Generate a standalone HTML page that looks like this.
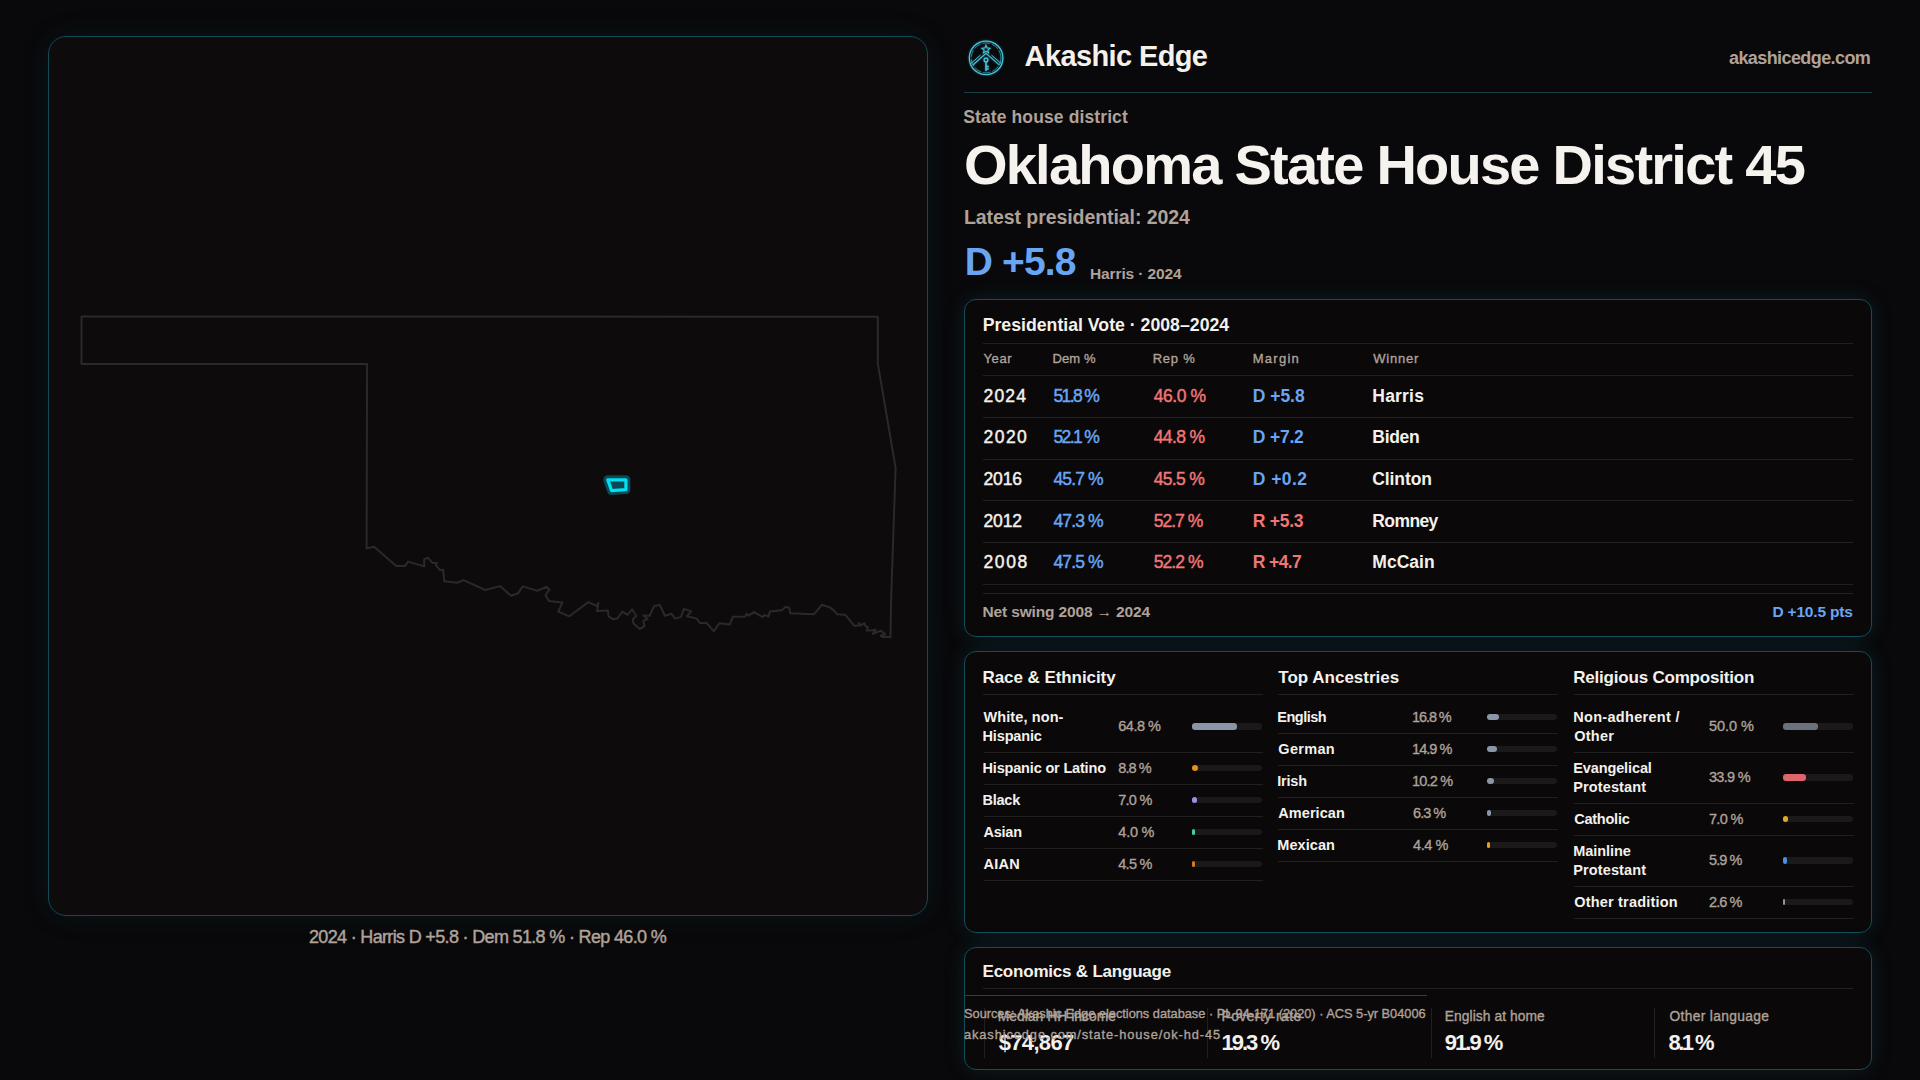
<!DOCTYPE html>
<html><head><meta charset="utf-8">
<style>
*{box-sizing:border-box;margin:0;padding:0}
html,body{width:1920px;height:1080px;overflow:hidden;background:#09080a;font-family:"Liberation Sans",sans-serif;color:#f4f1ec}
.t{position:absolute;white-space:nowrap;line-height:1}
.r{position:absolute}
.map{position:absolute;left:48px;top:36px;width:880px;height:880px;border:1px solid #124a55;border-radius:18px;background:#0d0b0c;box-shadow:0 0 30px rgba(30,150,175,0.11)}
.map svg{position:absolute;left:-49px;top:-37px}
.card{position:absolute;left:964px;width:908px;border:1px solid #134d59;border-radius:12px;background:#0a0809;box-shadow:0 0 22px rgba(30,150,175,0.16)}
.hl{position:absolute;height:1px;background:#221f20}
</style></head><body>

<div class="map">
<svg width="1920" height="1080" viewBox="0 0 1920 1080">
<path fill="none" stroke="#2d2927" stroke-width="2" stroke-linejoin="round" d="M81.5 316.4 L877.8 316.7 L877.8 363.3 L895.6 468 L891.1 600 L890.5 637.1 L882.6 637.1 L880.7 635.7 L885.4 634.4 L880.7 630.6 L872.9 633.9 L875.6 629.7 L872.4 630.2 L866.9 630.6 L867.8 627.4 L865.2 625.6 L864.5 623.2 L860.4 625.6 L859 622.8 L858.3 625.6 L854.4 625.8 L845.1 614.7 L837.1 614.3 L834.2 610.6 L829.8 607.4 L821.8 604.8 L814 614.3 L790.4 613.3 L789.2 608 L785.8 606.7 L781.7 610.3 L770 611.4 L768.5 616.5 L764.2 615 L762.7 617.2 L754 612.1 L748.4 615.7 L746.7 613.8 L745.2 616.5 L732.8 616.8 L729.9 624.5 L719.3 623.3 L713.9 631.3 L706.6 623 L699.7 623 L696.8 618.6 L686.9 616.2 L691.3 611.4 L684 608.9 L681 616.9 L675.2 618.6 L671.6 613.8 L665 615.7 L659.9 605.1 L654.1 606 L649.7 615.7 L643.4 615.4 L647.5 619.1 L643.4 620.8 L644.3 626.4 L639.9 628.9 L633.4 623.5 L632.7 619.2 L636.4 616 L632 609.3 L627.6 614.8 L622.5 611.6 L617.4 618.4 L613 619.2 L608.6 616.3 L607.9 610.4 L597 611.1 L598.4 602.8 L597 606 L588.2 602.1 L569.3 616.3 L558.3 611.6 L562.4 602.4 L548.9 600.9 L545.5 595.1 L549.3 589.7 L546.7 586.8 L537.2 590.7 L522.6 586.4 L518.2 593.2 L511 595.8 L500 586.1 L485.4 590 L463.5 580.1 L457.7 582.7 L444.3 581.3 L443.1 569.6 L440.2 570.3 L435.8 565.2 L437 563 L432.2 562.7 L427.8 557.6 L424.2 559.4 L424.2 566.4 L408.1 561.6 L405.2 565.9 L396.2 565.9 L374.1 546.7 L366.6 548.4 L367.1 364 L81.5 364 Z"/>
<path fill="#0b4753" stroke="#0a4a55" stroke-width="9" stroke-linejoin="round" d="M607.8 479.8 L625.9 479.8 L625.9 489.6 L611.5 490.6 Z"/>
<path fill="#0b4753" stroke="#00e0f5" stroke-width="3.2" stroke-linejoin="round" d="M607.8 479.8 L625.9 479.8 L625.9 489.6 L611.5 490.6 Z"/>
</svg>
</div>

<!-- logo -->
<svg style="position:absolute;left:966px;top:38px" width="40" height="40" viewBox="0 0 40 40">
<defs><filter id="gl" x="-30%" y="-30%" width="160%" height="160%"><feGaussianBlur stdDeviation="0.9"/></filter></defs>
<g id="lg" fill="none" stroke="#45c3dc" stroke-width="1.2" stroke-linecap="round">
<circle cx="20.1" cy="19.9" r="16.8" stroke-width="1.3"/>
<circle cx="20.1" cy="19.9" r="14.9" stroke-width="0.7" stroke-dasharray="7 2.5" opacity="0.8"/>
<path d="M7.2 26.8 L20 15.4 L32.9 26.6"/>
<path d="M5.2 25.2 L14.2 17.4 M34.8 25.2 L25.8 17.4" stroke-width="1"/>
<path d="M20 7.2 L21.1 9.9 L24.1 10.3 L21.8 12.2 L22.6 14.8 L20 13.3 L17.4 14.8 L18.2 12.2 L15.9 10.3 L18.9 9.9 Z" stroke-width="1.1"/>
<circle cx="20" cy="21.9" r="1.9" stroke-width="1.4"/>
<path d="M20 23.8 V32.4 M20 28.6 H22.2 M20 31 H22.2" stroke-width="1.6"/>
</g>
<use href="#lg" filter="url(#gl)" opacity="0.45"/>
</svg>
<div class="r" style="left:964px;top:92px;width:908px;height:1px;background:#163f48"></div>

<div class="card" style="top:299px;height:338px"></div>
<div class="hl" style="left:983px;top:343px;width:870px"></div>
<div class="hl" style="left:983px;top:375px;width:870px"></div>
<div class="hl" style="left:983px;top:417px;width:870px"></div>
<div class="hl" style="left:983px;top:459px;width:870px"></div>
<div class="hl" style="left:983px;top:500px;width:870px"></div>
<div class="hl" style="left:983px;top:542px;width:870px"></div>
<div class="hl" style="left:983px;top:584px;width:870px"></div>
<div class="hl" style="left:983px;top:593px;width:870px"></div>

<div class="card" style="top:651px;height:282px"></div>
<div class="hl" style="left:983px;top:694px;width:279.5px"></div>
<div class="hl" style="left:1278.3px;top:694px;width:279.5px"></div>
<div class="hl" style="left:1574px;top:694px;width:279.5px"></div>

<div class="card" style="top:947px;height:123px"></div>
<div class="hl" style="left:983px;top:988px;width:870px"></div>
<div class="r" style="left:964px;top:995px;width:463px;height:1px;background:#124a56"></div>

<div class="r" style="left:1192.00px;top:723.30px;width:70.00px;height:6.40px;background:#1b191a;border-radius:3.2px"></div>
<div class="r" style="left:1192.00px;top:723.30px;width:45.36px;height:6.40px;background:#8a95a7;border-radius:3.2px"></div>
<div class="r" style="left:983.50px;top:752.00px;width:279.50px;height:1.00px;background:#221f20;border-radius:0px"></div>
<div class="r" style="left:1192.00px;top:764.80px;width:70.00px;height:6.40px;background:#1b191a;border-radius:3.2px"></div>
<div class="r" style="left:1192.00px;top:764.80px;width:6.16px;height:6.40px;background:#e3921c;border-radius:3.2px"></div>
<div class="r" style="left:983.50px;top:784.00px;width:279.50px;height:1.00px;background:#221f20;border-radius:0px"></div>
<div class="r" style="left:1192.00px;top:796.80px;width:70.00px;height:6.40px;background:#1b191a;border-radius:3.2px"></div>
<div class="r" style="left:1192.00px;top:796.80px;width:4.90px;height:6.40px;background:#a58be8;border-radius:3.2px"></div>
<div class="r" style="left:983.50px;top:816.00px;width:279.50px;height:1.00px;background:#221f20;border-radius:0px"></div>
<div class="r" style="left:1192.00px;top:828.80px;width:70.00px;height:6.40px;background:#1b191a;border-radius:3.2px"></div>
<div class="r" style="left:1192.00px;top:828.80px;width:2.80px;height:6.40px;background:#3fcf9a;border-radius:3.2px"></div>
<div class="r" style="left:983.50px;top:848.00px;width:279.50px;height:1.00px;background:#221f20;border-radius:0px"></div>
<div class="r" style="left:1192.00px;top:860.80px;width:70.00px;height:6.40px;background:#1b191a;border-radius:3.2px"></div>
<div class="r" style="left:1192.00px;top:860.80px;width:3.15px;height:6.40px;background:#d9791f;border-radius:3.2px"></div>
<div class="r" style="left:983.50px;top:880.00px;width:279.50px;height:1.00px;background:#221f20;border-radius:0px"></div>
<div class="r" style="left:1486.80px;top:713.80px;width:70.00px;height:6.40px;background:#1b191a;border-radius:3.2px"></div>
<div class="r" style="left:1486.80px;top:713.80px;width:11.76px;height:6.40px;background:#8a95a7;border-radius:3.2px"></div>
<div class="r" style="left:1278.30px;top:733.00px;width:279.50px;height:1.00px;background:#221f20;border-radius:0px"></div>
<div class="r" style="left:1486.80px;top:745.80px;width:70.00px;height:6.40px;background:#1b191a;border-radius:3.2px"></div>
<div class="r" style="left:1486.80px;top:745.80px;width:10.43px;height:6.40px;background:#8a95a7;border-radius:3.2px"></div>
<div class="r" style="left:1278.30px;top:765.00px;width:279.50px;height:1.00px;background:#221f20;border-radius:0px"></div>
<div class="r" style="left:1486.80px;top:777.80px;width:70.00px;height:6.40px;background:#1b191a;border-radius:3.2px"></div>
<div class="r" style="left:1486.80px;top:777.80px;width:7.14px;height:6.40px;background:#8a95a7;border-radius:3.2px"></div>
<div class="r" style="left:1278.30px;top:797.00px;width:279.50px;height:1.00px;background:#221f20;border-radius:0px"></div>
<div class="r" style="left:1486.80px;top:809.80px;width:70.00px;height:6.40px;background:#1b191a;border-radius:3.2px"></div>
<div class="r" style="left:1486.80px;top:809.80px;width:4.41px;height:6.40px;background:#8a95a7;border-radius:3.2px"></div>
<div class="r" style="left:1278.30px;top:829.00px;width:279.50px;height:1.00px;background:#221f20;border-radius:0px"></div>
<div class="r" style="left:1486.80px;top:841.80px;width:70.00px;height:6.40px;background:#1b191a;border-radius:3.2px"></div>
<div class="r" style="left:1486.80px;top:841.80px;width:3.08px;height:6.40px;background:#e3a01c;border-radius:3.2px"></div>
<div class="r" style="left:1278.30px;top:861.00px;width:279.50px;height:1.00px;background:#221f20;border-radius:0px"></div>
<div class="r" style="left:1782.70px;top:723.30px;width:70.00px;height:6.40px;background:#1b191a;border-radius:3.2px"></div>
<div class="r" style="left:1782.70px;top:723.30px;width:35.00px;height:6.40px;background:#6c717e;border-radius:3.2px"></div>
<div class="r" style="left:1574.20px;top:752.00px;width:279.50px;height:1.00px;background:#221f20;border-radius:0px"></div>
<div class="r" style="left:1782.70px;top:774.30px;width:70.00px;height:6.40px;background:#1b191a;border-radius:3.2px"></div>
<div class="r" style="left:1782.70px;top:774.30px;width:23.73px;height:6.40px;background:#e0646c;border-radius:3.2px"></div>
<div class="r" style="left:1574.20px;top:803.00px;width:279.50px;height:1.00px;background:#221f20;border-radius:0px"></div>
<div class="r" style="left:1782.70px;top:815.80px;width:70.00px;height:6.40px;background:#1b191a;border-radius:3.2px"></div>
<div class="r" style="left:1782.70px;top:815.80px;width:4.90px;height:6.40px;background:#e3a820;border-radius:3.2px"></div>
<div class="r" style="left:1574.20px;top:835.00px;width:279.50px;height:1.00px;background:#221f20;border-radius:0px"></div>
<div class="r" style="left:1782.70px;top:857.30px;width:70.00px;height:6.40px;background:#1b191a;border-radius:3.2px"></div>
<div class="r" style="left:1782.70px;top:857.30px;width:4.13px;height:6.40px;background:#4a90e2;border-radius:3.2px"></div>
<div class="r" style="left:1574.20px;top:886.00px;width:279.50px;height:1.00px;background:#221f20;border-radius:0px"></div>
<div class="r" style="left:1782.70px;top:898.80px;width:70.00px;height:6.40px;background:#1b191a;border-radius:3.2px"></div>
<div class="r" style="left:1782.70px;top:898.80px;width:2.20px;height:6.40px;background:#8a95a7;border-radius:3.2px"></div>
<div class="r" style="left:1574.20px;top:918.00px;width:279.50px;height:1.00px;background:#221f20;border-radius:0px"></div>
<div class="r" style="left:983.50px;top:1008.00px;width:1.00px;height:49.50px;background:#221f20;border-radius:0px"></div>
<div class="r" style="left:1207.30px;top:1008.00px;width:1.00px;height:49.50px;background:#221f20;border-radius:0px"></div>
<div class="r" style="left:1430.60px;top:1008.00px;width:1.00px;height:49.50px;background:#221f20;border-radius:0px"></div>
<div class="r" style="left:1654.20px;top:1008.00px;width:1.00px;height:49.50px;background:#221f20;border-radius:0px"></div>
<div class="t" style="top:928.00px;font-size:18px;font-weight:400;color:#afa299;letter-spacing:-0.667px;left:309.00px;-webkit-text-stroke:0.45px currentColor">2024 · Harris D +5.8 · Dem 51.8 % · Rep 46.0 %</div>
<div class="t" style="top:42.00px;font-size:29px;font-weight:700;color:#f4f1ec;letter-spacing:-0.618px;left:1024.60px">Akashic Edge</div>
<div class="t" style="top:49.00px;font-size:18px;font-weight:700;color:#afa299;letter-spacing:-0.586px;left:1729.00px">akashicedge.com</div>
<div class="t" style="top:109.00px;font-size:17.5px;font-weight:700;color:#afa299;letter-spacing:0.116px;left:963.20px">State house district</div>
<div class="t" style="top:137.00px;font-size:56px;font-weight:700;color:#f6f3ef;letter-spacing:-1.755px;left:963.90px">Oklahoma State House District 45</div>
<div class="t" style="top:208.00px;font-size:19.5px;font-weight:700;color:#afa299;letter-spacing:-0.075px;left:964.00px">Latest presidential: 2024</div>
<div class="t" style="top:242.00px;font-size:39px;font-weight:700;color:#68a6f4;letter-spacing:-0.880px;left:964.80px">D +5.8</div>
<div class="t" style="top:266.00px;font-size:15.5px;font-weight:700;color:#afa299;letter-spacing:-0.117px;left:1090.00px">Harris · 2024</div>
<div class="t" style="top:317.00px;font-size:17.7px;font-weight:700;color:#f4f1ec;letter-spacing:0.000px;left:982.70px">Presidential Vote · 2008–2024</div>
<div class="t" style="top:352.00px;font-size:13px;font-weight:400;color:#afa299;letter-spacing:0.600px;left:983.50px;-webkit-text-stroke:0.35px currentColor">Year</div>
<div class="t" style="top:352.00px;font-size:13px;font-weight:400;color:#afa299;letter-spacing:0.100px;left:1052.50px;-webkit-text-stroke:0.35px currentColor">Dem %</div>
<div class="t" style="top:352.00px;font-size:13px;font-weight:400;color:#afa299;letter-spacing:0.750px;left:1152.70px;-webkit-text-stroke:0.35px currentColor">Rep %</div>
<div class="t" style="top:352.00px;font-size:13px;font-weight:400;color:#afa299;letter-spacing:1.240px;left:1252.80px;-webkit-text-stroke:0.35px currentColor">Margin</div>
<div class="t" style="top:352.00px;font-size:13px;font-weight:400;color:#afa299;letter-spacing:0.760px;left:1373.30px;-webkit-text-stroke:0.35px currentColor">Winner</div>
<div class="t" style="top:388.00px;font-size:17.5px;font-weight:400;color:#f4f1ec;letter-spacing:1.200px;left:983.50px;-webkit-text-stroke:0.45px currentColor">2024</div>
<div class="t" style="top:388.00px;font-size:17.5px;font-weight:400;color:#68a6f4;letter-spacing:-1.620px;left:1053.50px;-webkit-text-stroke:0.45px currentColor">51.8 %</div>
<div class="t" style="top:388.00px;font-size:17.5px;font-weight:400;color:#f07676;letter-spacing:-0.400px;left:1153.70px;-webkit-text-stroke:0.45px currentColor">46.0 %</div>
<div class="t" style="top:388.00px;font-size:17.5px;font-weight:700;color:#68a6f4;letter-spacing:-0.040px;left:1252.80px">D +5.8</div>
<div class="t" style="top:388.00px;font-size:17.5px;font-weight:700;color:#f4f1ec;letter-spacing:0.200px;left:1372.30px">Harris</div>
<div class="t" style="top:429.00px;font-size:17.5px;font-weight:400;color:#f4f1ec;letter-spacing:1.467px;left:983.50px;-webkit-text-stroke:0.45px currentColor">2020</div>
<div class="t" style="top:429.00px;font-size:17.5px;font-weight:400;color:#68a6f4;letter-spacing:-1.620px;left:1053.50px;-webkit-text-stroke:0.45px currentColor">52.1 %</div>
<div class="t" style="top:429.00px;font-size:17.5px;font-weight:400;color:#f07676;letter-spacing:-0.600px;left:1153.70px;-webkit-text-stroke:0.45px currentColor">44.8 %</div>
<div class="t" style="top:429.00px;font-size:17.5px;font-weight:700;color:#68a6f4;letter-spacing:-0.200px;left:1252.80px">D +7.2</div>
<div class="t" style="top:429.00px;font-size:17.5px;font-weight:700;color:#f4f1ec;letter-spacing:-0.300px;left:1372.30px">Biden</div>
<div class="t" style="top:471.00px;font-size:17.5px;font-weight:400;color:#f4f1ec;letter-spacing:-0.133px;left:983.50px;-webkit-text-stroke:0.45px currentColor">2016</div>
<div class="t" style="top:471.00px;font-size:17.5px;font-weight:400;color:#68a6f4;letter-spacing:-0.900px;left:1053.50px;-webkit-text-stroke:0.45px currentColor">45.7 %</div>
<div class="t" style="top:471.00px;font-size:17.5px;font-weight:400;color:#f07676;letter-spacing:-0.660px;left:1153.70px;-webkit-text-stroke:0.45px currentColor">45.5 %</div>
<div class="t" style="top:471.00px;font-size:17.5px;font-weight:700;color:#68a6f4;letter-spacing:0.440px;left:1252.80px">D +0.2</div>
<div class="t" style="top:471.00px;font-size:17.5px;font-weight:700;color:#f4f1ec;letter-spacing:-0.100px;left:1372.30px">Clinton</div>
<div class="t" style="top:513.00px;font-size:17.5px;font-weight:400;color:#f4f1ec;letter-spacing:-0.133px;left:983.50px;-webkit-text-stroke:0.45px currentColor">2012</div>
<div class="t" style="top:513.00px;font-size:17.5px;font-weight:400;color:#68a6f4;letter-spacing:-0.900px;left:1053.50px;-webkit-text-stroke:0.45px currentColor">47.3 %</div>
<div class="t" style="top:513.00px;font-size:17.5px;font-weight:400;color:#f07676;letter-spacing:-0.980px;left:1153.70px;-webkit-text-stroke:0.45px currentColor">52.7 %</div>
<div class="t" style="top:513.00px;font-size:17.5px;font-weight:700;color:#f07676;letter-spacing:-0.260px;left:1252.80px">R +5.3</div>
<div class="t" style="top:513.00px;font-size:17.5px;font-weight:700;color:#f4f1ec;letter-spacing:-0.600px;left:1372.30px">Romney</div>
<div class="t" style="top:554.00px;font-size:17.5px;font-weight:400;color:#f4f1ec;letter-spacing:1.633px;left:983.50px;-webkit-text-stroke:0.45px currentColor">2008</div>
<div class="t" style="top:554.00px;font-size:17.5px;font-weight:400;color:#68a6f4;letter-spacing:-0.900px;left:1053.50px;-webkit-text-stroke:0.45px currentColor">47.5 %</div>
<div class="t" style="top:554.00px;font-size:17.5px;font-weight:400;color:#f07676;letter-spacing:-0.920px;left:1153.70px;-webkit-text-stroke:0.45px currentColor">52.2 %</div>
<div class="t" style="top:554.00px;font-size:17.5px;font-weight:700;color:#f07676;letter-spacing:-0.600px;left:1252.80px">R +4.7</div>
<div class="t" style="top:554.00px;font-size:17.5px;font-weight:700;color:#f4f1ec;letter-spacing:0.020px;left:1372.30px">McCain</div>
<div class="t" style="top:604.00px;font-size:15.5px;font-weight:700;color:#afa299;letter-spacing:-0.150px;left:982.50px">Net swing 2008 → 2024</div>
<div class="t" style="top:604.00px;font-size:15.5px;font-weight:700;color:#68a6f4;letter-spacing:-0.200px;left:1772.50px">D +10.5 pts</div>
<div class="t" style="top:669.00px;font-size:17px;font-weight:700;color:#f4f1ec;letter-spacing:-0.067px;left:982.50px">Race &amp; Ethnicity</div>
<div class="t" style="top:669.00px;font-size:17px;font-weight:700;color:#f4f1ec;letter-spacing:0.000px;left:1278.30px">Top Ancestries</div>
<div class="t" style="top:669.00px;font-size:17px;font-weight:700;color:#f4f1ec;letter-spacing:-0.200px;left:1573.20px">Religious Composition</div>
<div class="t" style="top:710.00px;font-size:14.5px;font-weight:700;color:#f4f1ec;letter-spacing:0.100px;left:983.50px">White, non-</div>
<div class="t" style="top:729.00px;font-size:14.5px;font-weight:700;color:#f4f1ec;letter-spacing:-0.143px;left:982.50px">Hispanic</div>
<div class="t" style="top:719.00px;font-size:14.5px;font-weight:400;color:#afa299;letter-spacing:-0.520px;left:1118.30px;-webkit-text-stroke:0.35px currentColor">64.8 %</div>
<div class="t" style="top:761.00px;font-size:14.5px;font-weight:700;color:#f4f1ec;letter-spacing:-0.176px;left:982.50px">Hispanic or Latino</div>
<div class="t" style="top:761.00px;font-size:14.5px;font-weight:400;color:#afa299;letter-spacing:-0.950px;left:1118.30px;-webkit-text-stroke:0.35px currentColor">8.8 %</div>
<div class="t" style="top:793.00px;font-size:14.5px;font-weight:700;color:#f4f1ec;letter-spacing:-0.250px;left:982.50px">Black</div>
<div class="t" style="top:793.00px;font-size:14.5px;font-weight:400;color:#afa299;letter-spacing:-0.775px;left:1118.30px;-webkit-text-stroke:0.35px currentColor">7.0 %</div>
<div class="t" style="top:825.00px;font-size:14.5px;font-weight:700;color:#f4f1ec;letter-spacing:-0.250px;left:983.50px">Asian</div>
<div class="t" style="top:825.00px;font-size:14.5px;font-weight:400;color:#afa299;letter-spacing:-0.225px;left:1118.30px;-webkit-text-stroke:0.35px currentColor">4.0 %</div>
<div class="t" style="top:857.00px;font-size:14.5px;font-weight:700;color:#f4f1ec;letter-spacing:0.267px;left:983.50px">AIAN</div>
<div class="t" style="top:857.00px;font-size:14.5px;font-weight:400;color:#afa299;letter-spacing:-0.750px;left:1118.30px;-webkit-text-stroke:0.35px currentColor">4.5 %</div>
<div class="t" style="top:710.00px;font-size:14.5px;font-weight:700;color:#f4f1ec;letter-spacing:-0.500px;left:1277.30px">English</div>
<div class="t" style="top:710.00px;font-size:14.5px;font-weight:400;color:#afa299;letter-spacing:-1.120px;left:1412.10px;-webkit-text-stroke:0.35px currentColor">16.8 %</div>
<div class="t" style="top:742.00px;font-size:14.5px;font-weight:700;color:#f4f1ec;letter-spacing:0.300px;left:1278.30px">German</div>
<div class="t" style="top:742.00px;font-size:14.5px;font-weight:400;color:#afa299;letter-spacing:-0.980px;left:1412.10px;-webkit-text-stroke:0.35px currentColor">14.9 %</div>
<div class="t" style="top:774.00px;font-size:14.5px;font-weight:700;color:#f4f1ec;letter-spacing:-0.225px;left:1277.30px">Irish</div>
<div class="t" style="top:774.00px;font-size:14.5px;font-weight:400;color:#afa299;letter-spacing:-0.800px;left:1412.10px;-webkit-text-stroke:0.35px currentColor">10.2 %</div>
<div class="t" style="top:806.00px;font-size:14.5px;font-weight:700;color:#f4f1ec;letter-spacing:0.057px;left:1278.30px">American</div>
<div class="t" style="top:806.00px;font-size:14.5px;font-weight:400;color:#afa299;letter-spacing:-1.000px;left:1413.10px;-webkit-text-stroke:0.35px currentColor">6.3 %</div>
<div class="t" style="top:838.00px;font-size:14.5px;font-weight:700;color:#f4f1ec;letter-spacing:0.067px;left:1277.30px">Mexican</div>
<div class="t" style="top:838.00px;font-size:14.5px;font-weight:400;color:#afa299;letter-spacing:-0.475px;left:1413.10px;-webkit-text-stroke:0.35px currentColor">4.4 %</div>
<div class="t" style="top:710.00px;font-size:14.5px;font-weight:700;color:#f4f1ec;letter-spacing:0.308px;left:1573.20px">Non-adherent /</div>
<div class="t" style="top:729.00px;font-size:14.5px;font-weight:700;color:#f4f1ec;letter-spacing:0.250px;left:1574.20px">Other</div>
<div class="t" style="top:719.00px;font-size:14.5px;font-weight:400;color:#afa299;letter-spacing:-0.060px;left:1709.00px;-webkit-text-stroke:0.35px currentColor">50.0 %</div>
<div class="t" style="top:761.00px;font-size:14.5px;font-weight:700;color:#f4f1ec;letter-spacing:-0.110px;left:1573.20px">Evangelical</div>
<div class="t" style="top:780.00px;font-size:14.5px;font-weight:700;color:#f4f1ec;letter-spacing:0.133px;left:1573.20px">Protestant</div>
<div class="t" style="top:770.00px;font-size:14.5px;font-weight:400;color:#afa299;letter-spacing:-0.720px;left:1709.00px;-webkit-text-stroke:0.35px currentColor">33.9 %</div>
<div class="t" style="top:812.00px;font-size:14.5px;font-weight:700;color:#f4f1ec;letter-spacing:-0.229px;left:1574.20px">Catholic</div>
<div class="t" style="top:812.00px;font-size:14.5px;font-weight:400;color:#afa299;letter-spacing:-0.700px;left:1709.00px;-webkit-text-stroke:0.35px currentColor">7.0 %</div>
<div class="t" style="top:844.00px;font-size:14.5px;font-weight:700;color:#f4f1ec;letter-spacing:-0.043px;left:1573.20px">Mainline</div>
<div class="t" style="top:863.00px;font-size:14.5px;font-weight:700;color:#f4f1ec;letter-spacing:0.133px;left:1573.20px">Protestant</div>
<div class="t" style="top:853.00px;font-size:14.5px;font-weight:400;color:#afa299;letter-spacing:-0.900px;left:1709.00px;-webkit-text-stroke:0.35px currentColor">5.9 %</div>
<div class="t" style="top:895.00px;font-size:14.5px;font-weight:700;color:#f4f1ec;letter-spacing:0.193px;left:1574.20px">Other tradition</div>
<div class="t" style="top:895.00px;font-size:14.5px;font-weight:400;color:#afa299;letter-spacing:-0.900px;left:1709.00px;-webkit-text-stroke:0.35px currentColor">2.6 %</div>
<div class="t" style="top:963.00px;font-size:17px;font-weight:700;color:#f4f1ec;letter-spacing:-0.211px;left:982.50px">Economics &amp; Language</div>
<div class="t" style="top:1010.00px;font-size:13.8px;font-weight:400;color:#afa299;letter-spacing:0.067px;left:997.70px;-webkit-text-stroke:0.35px currentColor">Median HH income</div>
<div class="t" style="top:1032.00px;font-size:22px;font-weight:700;color:#f4f1ec;letter-spacing:-0.667px;left:998.70px">$74,867</div>
<div class="t" style="top:1010.00px;font-size:13.8px;font-weight:400;color:#afa299;letter-spacing:0.477px;left:1221.50px;-webkit-text-stroke:0.35px currentColor">Poverty rate</div>
<div class="t" style="top:1032.00px;font-size:22px;font-weight:700;color:#f4f1ec;letter-spacing:-2.000px;left:1221.50px">19.3 %</div>
<div class="t" style="top:1010.00px;font-size:13.8px;font-weight:400;color:#afa299;letter-spacing:0.071px;left:1444.80px;-webkit-text-stroke:0.35px currentColor">English at home</div>
<div class="t" style="top:1032.00px;font-size:22px;font-weight:700;color:#f4f1ec;letter-spacing:-2.000px;left:1444.80px">91.9 %</div>
<div class="t" style="top:1010.00px;font-size:13.8px;font-weight:400;color:#afa299;letter-spacing:0.346px;left:1669.40px;-webkit-text-stroke:0.35px currentColor">Other language</div>
<div class="t" style="top:1032.00px;font-size:22px;font-weight:700;color:#f4f1ec;letter-spacing:-2.500px;left:1668.40px">8.1 %</div>
<div class="t" style="top:1008.00px;font-size:12.8px;font-weight:400;color:#afa299;letter-spacing:-0.013px;left:964.00px;-webkit-text-stroke:0.35px currentColor">Sources: Akashic Edge elections database · PL 94-171 (2020) · ACS 5-yr B04006</div>
<div class="t" style="top:1029.00px;font-size:12.8px;font-weight:400;color:#afa299;letter-spacing:0.914px;left:964.00px;-webkit-text-stroke:0.35px currentColor">akashicedge.com/state-house/ok-hd-45</div>
</body></html>
